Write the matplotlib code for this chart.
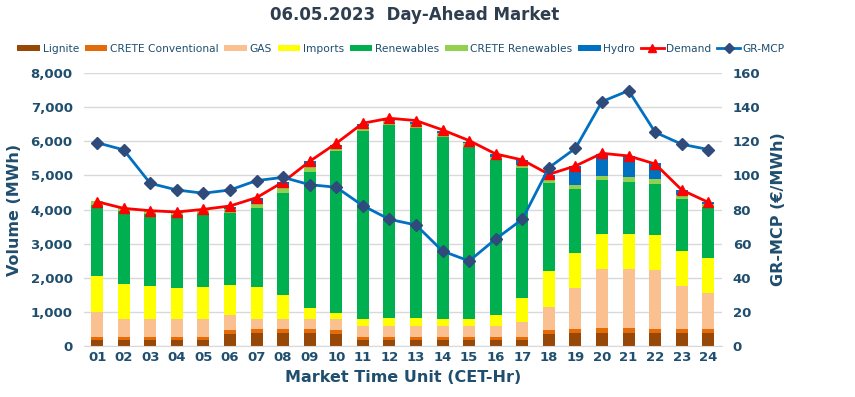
import numpy as np
import matplotlib.pyplot as plt
from matplotlib.patches import Patch
from matplotlib.lines import Line2D

# Ώρες (MTU) και όγκοι ανά πηγή (MWh)
hours = ['%02d' % h for h in range(1, 25)]
lignite = [180, 180, 180, 180, 180, 370, 390, 390, 390, 370, 180, 180,
           180, 180, 180, 180, 180, 370, 390, 390, 390, 390, 390, 390]
crete_conv = [100, 100, 100, 100, 100, 100, 100, 100, 100, 100, 100, 100,
              100, 100, 100, 100, 100, 100, 120, 150, 130, 100, 100, 100]
gas = [730, 520, 520, 520, 520, 450, 300, 300, 300, 320, 320, 320,
       320, 320, 320, 320, 430, 680, 1190, 1720, 1730, 1730, 1280, 1065]
imports = [1045, 1035, 970, 900, 940, 870, 940, 705, 315, 195, 205, 225,
           215, 185, 185, 315, 695, 1045, 1015, 1025, 1035, 1025, 1025, 1025]
renewables = [2080, 2110, 2110, 2140, 2120, 2120, 2305, 3000, 3990, 4720, 5495, 5640,
              5570, 5355, 5045, 4525, 3800, 2590, 1885, 1585, 1535, 1505, 1505, 1495]
crete_ren = [105, 95, 100, 100, 115, 110, 125, 145, 145, 115, 135, 135,
             125, 115, 115, 115, 110, 125, 115, 125, 125, 135, 115, 90]
hydro = [0, 0, 0, 0, 20, 70, 185, 175, 195, 80, 80, 50,
         70, 60, 50, 70, 125, 100, 560, 635, 625, 470, 155, 50]
demand = [4233, 4037, 3969, 3930, 4008, 4106, 4350, 4809, 5415, 5943, 6530, 6676,
          6608, 6334, 6022, 5630, 5455, 5034, 5279, 5650, 5572, 5337, 4575, 4213]
mcp = [119.2, 115.0, 95.4, 91.5, 89.6, 91.5, 97.0, 98.9, 94.6, 93.1, 82.3, 74.3,
       71.0, 55.7, 49.9, 62.8, 74.3, 104.6, 115.9, 143.3, 149.7, 125.3, 118.3, 115.2]

series = [
    ('Lignite', lignite, '#974706'),
    ('CRETE Conventional', crete_conv, '#E36C09'),
    ('GAS', gas, '#FAC090'),
    ('Imports', imports, '#FFFF00'),
    ('Renewables', renewables, '#00B050'),
    ('CRETE Renewables', crete_ren, '#92D050'),
    ('Hydro', hydro, '#0070C0'),
]

txt = '#1F4E6E'
plt.rcParams['font.family'] = 'DejaVu Sans'

fig = plt.figure(figsize=(8.55, 3.97), dpi=100)
ax = fig.add_axes([0.098, 0.128, 0.746, 0.688])
ax2 = ax.twinx()

x = np.arange(len(hours))
bottom = np.zeros(len(hours))
handles = []
for name, vals, col in series:
    ax.bar(x, vals, 0.45, bottom=bottom, color=col, zorder=2)
    bottom += np.array(vals)
    handles.append(Patch(facecolor=col, label=name))

ax.plot(x, demand, color='#FF0000', lw=2, marker='^', ms=7, zorder=4)
ax2.plot(x, mcp, color='#0070C0', lw=2, marker='D', ms=6,
         markerfacecolor='#2F4B7C', markeredgecolor='#2F4B7C', zorder=4)
ax2.set_zorder(ax.get_zorder() + 1)
ax2.patch.set_visible(False)

handles.append(Line2D([], [], color='#FF0000', lw=2, marker='^', ms=6, label='Demand'))
handles.append(Line2D([], [], color='#0070C0', lw=2, marker='D', ms=5,
                      markerfacecolor='#2F4B7C', markeredgecolor='#2F4B7C', label='GR-MCP'))

ax.set_xlim(-0.5, 23.5)
ax.set_ylim(0, 8000)
ax2.set_ylim(0, 160)
ax.set_yticks(np.arange(0, 8001, 1000))
ax.set_yticklabels(['{:,}'.format(v) for v in range(0, 8001, 1000)])
ax2.set_yticks(np.arange(0, 161, 20))
ax.set_xticks(x)
ax.set_xticklabels(hours)

ax.grid(axis='y', color='#D9D9D9', lw=1, zorder=0)
for a in (ax, ax2):
    for s in a.spines.values():
        s.set_visible(False)
    a.tick_params(length=0, labelsize=9.5, colors=txt)
    for lab in a.get_xticklabels() + a.get_yticklabels():
        lab.set_fontweight('bold')
ax.spines['bottom'].set_visible(True)
ax.spines['bottom'].set_color('#D9D9D9')
ax.tick_params(axis='y', pad=8)
ax2.tick_params(axis='y', pad=8)

ax.set_ylabel('Volume (MWh)', fontsize=11.5, fontweight='bold', color=txt, labelpad=6)
ax2.set_ylabel('GR-MCP (€/MWh)', fontsize=11.5, fontweight='bold', color=txt, labelpad=8)
ax.set_xlabel('Market Time Unit (CET-Hr)', fontsize=11.5, fontweight='bold', color=txt, labelpad=4)

fig.text(0.485, 0.962, '06.05.2023  Day-Ahead Market', ha='center', va='center',
         fontsize=12, fontweight='bold', color='#2F3E4E')

leg = fig.legend(handles=handles, loc='center', bbox_to_anchor=(0.469, 0.877), ncol=9,
                 frameon=False, fontsize=7.7, handlelength=2.1, handleheight=0.55,
                 handletextpad=0.25, columnspacing=0.55, borderpad=0)
for t in leg.get_texts():
    t.set_color(txt)

fig.savefig('out.png', dpi=100)
